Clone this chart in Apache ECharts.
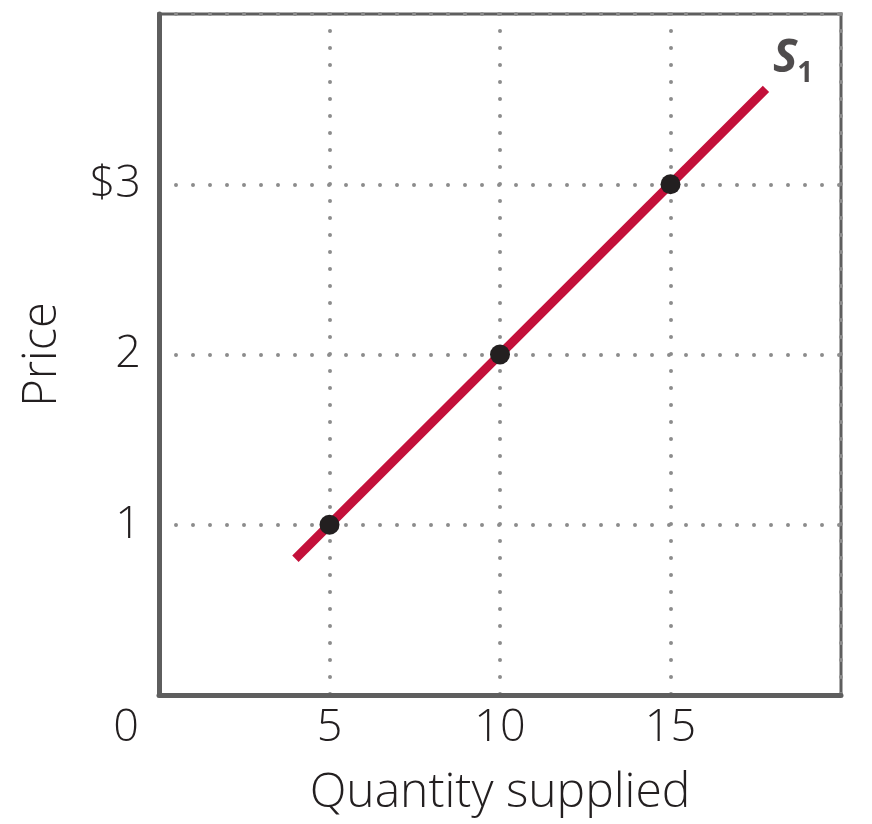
<!DOCTYPE html>
<html>
<head>
<meta charset="utf-8">
<script src="https://cdn.jsdelivr.net/npm/echarts@6/dist/echarts.min.js"></script>
<style>html,body{margin:0;padding:0;background:#fff}#c{width:872px;height:824px}</style>
</head>
<body>
<div id="c"></div>
<script>
// Data
var xTickLabels = {0: '0', 5: '5', 10: '10', 15: '15'};
var yTickLabels = {1: '1', 2: '2', 3: '$3'};
var supplyLine = [[4, 0.8], [17.8, 3.56]];
var supplyPoints = [[5, 1], [10, 2], [15, 3]];
var curveLabelPoint = [[17.8, 3.56]];
var curveName = 'S';
var curveSub = '1';

var textColor = '#231f20';
var axisColor = '#5e5e5e';
var font = 'Open Sans';

var chart = echarts.init(document.getElementById('c'), null, {renderer: 'canvas'});
chart.setOption({
  animation: false,
  backgroundColor: '#fff',
  grid: {left: 159, top: 14, width: 682, height: 681, show: true, borderColor: axisColor, borderWidth: 3, backgroundColor: 'transparent'},
  xAxis: {
    type: 'value', min: 0, max: 20, interval: 5,
    name: 'Quantity supplied', nameLocation: 'middle', nameGap: 74,
    nameTextStyle: {fontFamily: font, fontWeight: 300, fontSize: 48, color: textColor},
    axisLine: {show: true, lineStyle: {color: axisColor, width: 5}},
    axisTick: {show: false},
    axisLabel: {
      margin: 11, fontFamily: font, fontWeight: 300, fontSize: 45, color: textColor,
      formatter: function (v) {
        var t = xTickLabels[v];
        if (t === undefined) return '';
        return v === 0 ? '{z|' + t + '}' : t;
      },
      rich: {z: {fontFamily: font, fontWeight: 300, fontSize: 45, color: textColor, padding: [0, 66, 0, 0]}}
    },
    splitLine: {show: true, lineStyle: {color: '#8c8c8c', width: 4, type: [0, 17], cap: 'round'}}
  },
  yAxis: {
    type: 'value', min: 0, max: 4, interval: 1,
    name: 'Price', nameLocation: 'middle', nameGap: 93,
    nameTextStyle: {fontFamily: font, fontWeight: 300, fontSize: 47, color: textColor},
    axisLine: {show: true, lineStyle: {color: axisColor, width: 5}},
    axisTick: {show: false},
    axisLabel: {
      margin: 18, fontFamily: font, fontWeight: 300, fontSize: 45, color: textColor,
      formatter: function (v) { var t = yTickLabels[v]; return t === undefined ? '' : t; }
    },
    splitLine: {show: true, lineStyle: {color: '#8c8c8c', width: 4, type: [0, 17], cap: 'round'}}
  },
  series: [
    {
      type: 'line', data: supplyLine, showSymbol: false, symbol: 'none',
      lineStyle: {color: '#c3103a', width: 9, cap: 'butt'}, z: 3
    },
    {
      type: 'scatter', data: supplyPoints, symbolSize: 20,
      itemStyle: {color: textColor, opacity: 1}, z: 4
    },
    {
      type: 'scatter', data: curveLabelPoint, symbolSize: 0, silent: true, z: 5,
      label: {
        show: true, position: [7, -53], align: 'left', verticalAlign: 'top',
        formatter: '{s|' + curveName + '}{sub|' + curveSub + '}',
        rich: {
          s: {fontFamily: font, fontSize: 46, fontWeight: 'bold', fontStyle: 'italic', color: textColor, lineHeight: 52, verticalAlign: 'top'},
          sub: {fontFamily: font, fontSize: 28, fontWeight: 'bold', color: textColor, lineHeight: 28, verticalAlign: 'bottom'}
        }
      }
    }
  ]
});
</script>
</body>
</html>
